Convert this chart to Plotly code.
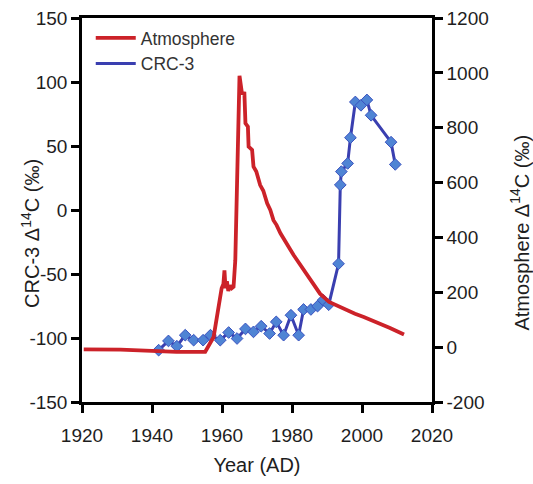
import plotly.graph_objects as go

# Atmosphere Δ14C (right axis, ‰)
atm_year = [1920.5, 1931, 1947, 1955.2, 1957.6, 1959.9, 1960.4, 1960.7, 1961.0, 1961.4,
            1961.8, 1962.3, 1962.8, 1963.3, 1963.8, 1964.5, 1965.0, 1965.7, 1966.4, 1966.7,
            1967.4, 1967.6, 1968.6, 1969.0, 1969.8, 1970.9, 1971.8, 1972.9, 1973.8, 1974.7,
            1975.6, 1976.7, 1977.6, 1978.6, 1979.5, 1980.5, 1981.5, 1982.4, 1983.8, 1985.0,
            1986.1, 1988.0, 1990.6, 1993.0, 1995.7, 1998.0, 2000.5, 2005.2, 2008.0, 2012.0]
atm_val = [-8, -9, -17, -17, 37, 215, 230, 280, 215, 240,
           205, 225, 215, 220, 317, 800, 989, 926, 925, 816,
           804, 731, 719, 658, 640, 591, 570, 524, 500, 463,
           445, 415, 398, 375, 356, 335, 316, 298, 270, 248,
           226, 195, 165, 150, 135, 122, 110, 86, 70, 46]

# CRC-3 Δ14C (left axis, ‰)
crc_year = [1941.9, 1944.7, 1947.1, 1949.5, 1951.9, 1954.6, 1956.7, 1959.5, 1961.9, 1964.3,
            1966.7, 1969.0, 1971.2, 1973.6, 1975.5, 1977.6, 1979.7, 1981.9, 1983.3, 1985.4,
            1987.3, 1988.9, 1990.5, 1993.3, 1993.8, 1994.1, 1995.9, 1996.7, 1998.1, 1999.7,
            2001.4, 2002.6, 2008.3, 2009.5]
crc_val = [-109.5, -102.3, -106.4, -97.8, -101.7, -101.7, -97.8, -101.7, -95.7, -100.4,
           -92.9, -95.2, -90.8, -96.5, -87.4, -97.8, -82.2, -97.8, -77.7, -77.7,
           -75.1, -70.4, -74.0, -42.0, 19.6, 30.0, 36.4, 56.5, 84.4, 81.8,
           86.0, 74.0, 53.0, 35.6]

x_ticks = [1920, 1940, 1960, 1980, 2000, 2020]
x_ticktext = ["1920", "1940", "1960", "1980", "2000", "2020"]
y_ticks = [-150, -100, -50, 0, 50, 100, 150]
y_ticktext = ["-150", "-100", "-50", "0", "50", "100", "150"]
y2_ticks = [-200, 0, 200, 400, 600, 800, 1000, 1200]
y2_ticktext = ["-200", "0", "200", "400", "600", "800", "1000", "1200"]

FONT = "Arial, Liberation Sans, sans-serif"
TXT = "#1e1e1e"
RED = "#cc2229"
BLUE = "#3a3fb0"

fig = go.Figure()
fig.add_trace(go.Scatter(
    x=atm_year, y=atm_val, name="Atmosphere", mode="lines", yaxis="y2",
    line=dict(color=RED, width=3.8),
))
fig.add_trace(go.Scatter(
    x=crc_year, y=crc_val, name="CRC-3", mode="lines+markers", yaxis="y",
    showlegend=False,
    line=dict(color=BLUE, width=3),
    marker=dict(symbol="diamond", size=9, color="#4f84d4",
                line=dict(color="#3a52c0", width=1)),
))
# legend entry for CRC-3 (line only, as in the reference legend)
fig.add_trace(go.Scatter(
    x=[None], y=[None], name="CRC-3", mode="lines", yaxis="y",
    line=dict(color=BLUE, width=3),
))

axis_common = dict(
    showline=True, linecolor="black", linewidth=2.5, ticks="outside",
    ticklen=8, tickwidth=2.5, tickcolor="black", showgrid=False, zeroline=False,
    automargin=False,
    tickfont=dict(family=FONT, size=19, color=TXT),
)

fig.update_layout(
    width=533, height=484,
    margin=dict(l=82, r=101, t=18, b=82),
    paper_bgcolor="white", plot_bgcolor="white",
    showlegend=True,
    legend=dict(x=0.025, y=0.995, xanchor="left", yanchor="top",
                font=dict(family=FONT, size=17.5, color="#333333"),
                bgcolor="rgba(0,0,0,0)", itemwidth=40, tracegroupgap=0),
    xaxis=dict(range=[1920, 2020], tickvals=x_ticks, ticktext=x_ticktext, mirror=True,
               ticklabelstandoff=6,
               title=dict(text="Year (AD)", font=dict(family=FONT, size=20, color=TXT), standoff=14),
               **axis_common),
    yaxis=dict(range=[-150, 150], tickvals=y_ticks, ticktext=y_ticktext, **axis_common),
    yaxis2=dict(range=[-200, 1200], tickvals=y2_ticks, ticktext=y2_ticktext,
                overlaying="y", side="right", **axis_common),
    annotations=[
        dict(text="CRC-3 Δ<sup>14</sup>C (‰)", xref="paper", yref="paper",
             x=-0.149, y=0.44, textangle=-90, showarrow=False,
             xanchor="center", yanchor="middle",
             font=dict(family=FONT, size=20, color=TXT)),
        dict(text="Atmosphere Δ<sup>14</sup>C (‰)", xref="paper", yref="paper",
             x=1.25, y=0.44, textangle=-90, showarrow=False,
             xanchor="center", yanchor="middle",
             font=dict(family=FONT, size=20, color=TXT)),
    ],
)

fig.write_html("out.html")
